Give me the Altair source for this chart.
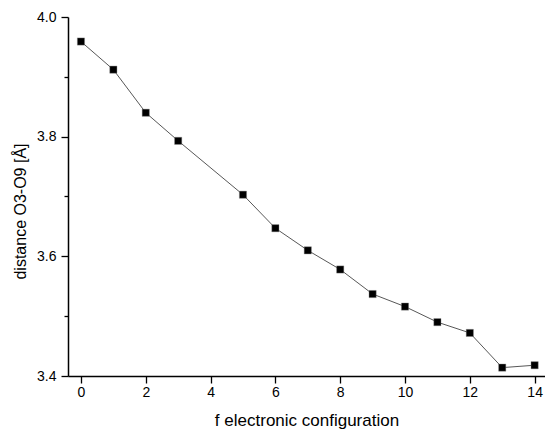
import altair as alt
import pandas as pd

# f-electron count and the O3-O9 separation for each configuration
f_count = [0, 1, 2, 3, 5, 6, 7, 8, 9, 10, 11, 12, 13, 14]
distance = [3.959, 3.912, 3.840, 3.793, 3.703, 3.647, 3.610, 3.578,
            3.537, 3.516, 3.490, 3.472, 3.414, 3.418]

x_ticks = list(range(0, 15))
y_ticks = [3.4, 3.5, 3.6, 3.7, 3.8, 3.9, 4.0]

df = pd.DataFrame({"f": f_count, "d": distance})

FONT = "Liberation Sans"

x_enc = alt.X(
    "f:Q",
    scale=alt.Scale(domain=[-0.4, 14.32], nice=False, zero=False),
    axis=alt.Axis(
        title="f electronic configuration",
        values=x_ticks,
        labelExpr="datum.value % 2 === 0 ? datum.label : ''",
        tickSize={"condition": {"test": "datum.value % 2 === 0", "value": 7}, "value": 4},
        tickWidth=1.3,
        tickColor="black",
        domainColor="black",
        domainWidth=1.5,
        labelFont=FONT,
        labelFontSize=14,
        labelColor="black",
        labelPadding=2,
        titleFont=FONT,
        titleFontSize=17,
        titleFontWeight="normal",
        titleColor="black",
        titleBaseline="alphabetic",
        titleY=49,
        grid=False,
    ),
)

y_enc = alt.Y(
    "d:Q",
    scale=alt.Scale(domain=[3.4, 4.0], nice=False, zero=False),
    axis=alt.Axis(
        title="distance O3-O9 [Å]",
        values=y_ticks,
        format=".1f",
        labelExpr="round(datum.value * 10) % 2 === 0 ? datum.label : ''",
        tickSize={"condition": {"test": "round(datum.value * 10) % 2 === 0", "value": 7}, "value": 4},
        tickWidth=1.3,
        tickColor="black",
        domainColor="black",
        domainWidth=1.5,
        labelFont=FONT,
        labelFontSize=14,
        labelColor="black",
        labelPadding=5,
        titleFont=FONT,
        titleFontSize=16,
        titleFontWeight="normal",
        titleColor="black",
        titleAngle=-90,
        titleAlign="center",
        titleBaseline="alphabetic",
        titleX=-43,
        titleY=194,
        grid=False,
    ),
)

line = alt.Chart(df).mark_line(color="#444444", strokeWidth=0.9).encode(x=x_enc, y=y_enc)
points = alt.Chart(df).mark_point(
    shape="square", filled=True, size=52, color="black", opacity=1,
    stroke="#888888", strokeWidth=0.4,
).encode(x="f:Q", y="d:Q")

chart = (
    alt.layer(line, points)
    .properties(
        width=477,
        height=359,
        padding={"left": 68, "top": 17, "right": 0, "bottom": 53},
        autosize=alt.AutoSizeParams(type="none"),
        background="white",
    )
    .configure_view(stroke=None)
)

chart.save("out.html", embed_options={"renderer": "svg", "actions": False})
